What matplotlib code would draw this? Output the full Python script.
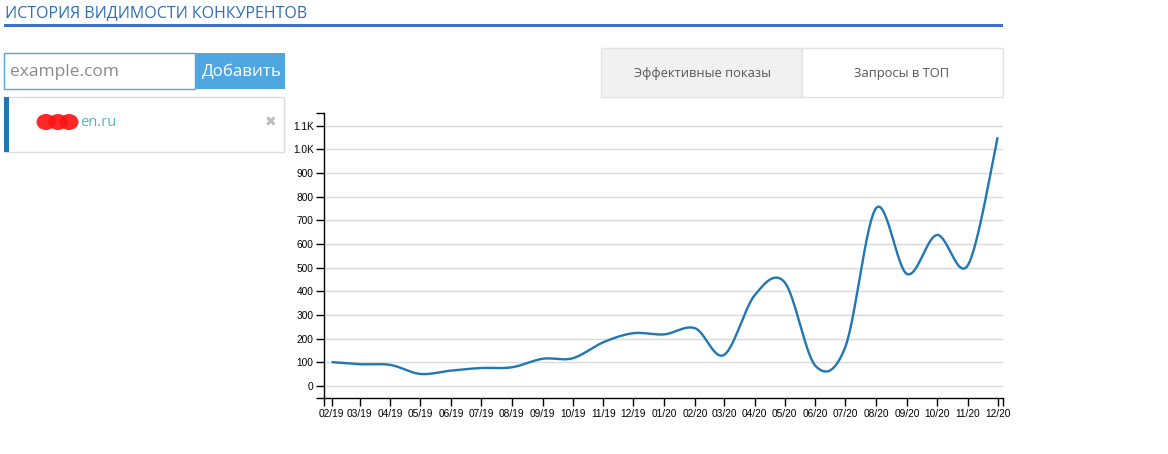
import numpy as np
import matplotlib
matplotlib.use("Agg")
import matplotlib.pyplot as plt
import matplotlib.dates as mdates
from matplotlib.patches import Rectangle, Ellipse
from matplotlib.ticker import FixedLocator, FuncFormatter
import datetime as dt

# monthly visibility values
months = ["2019-02", "2019-03", "2019-04", "2019-05", "2019-06", "2019-07",
          "2019-08", "2019-09", "2019-10", "2019-11", "2019-12", "2020-01",
          "2020-02", "2020-03", "2020-04", "2020-05", "2020-06", "2020-07",
          "2020-08", "2020-09", "2020-10", "2020-11", "2020-12"]
values = [101, 92, 89, 51, 65, 76, 79, 115, 117, 185, 223, 218,
          244, 131, 384, 438, 85, 166, 752, 473, 638, 510, 1051]
y_ticks = [0, 100, 200, 300, 400, 500, 600, 700, 800, 900, 1000, 1100]

W, H = 1168, 454


def px(x, y):
    # page pixel -> figure fraction
    return x / W, 1 - y / H


def box(fig, x0, y0, x1, y1, **kw):
    fx, fy = px(x0, y1)
    r = Rectangle((fx, fy), (x1 - x0) / W, (y1 - y0) / H,
                  transform=fig.transFigure, zorder=1, **kw)
    fig.add_artist(r)


def cardinal(xs, ys, n=30):
    # same smoothing as d3.curveCardinal (tension 0)
    xs = np.asarray(xs, float)
    ys = np.asarray(ys, float)
    px_ = np.concatenate([[xs[0]], xs, [xs[-1]]])
    py_ = np.concatenate([[ys[0]], ys, [ys[-1]]])
    outx, outy = [], []
    t = np.linspace(0, 1, n)
    for i in range(1, len(px_) - 2):
        x0, x1, x2, x3 = px_[i - 1], px_[i], px_[i + 1], px_[i + 2]
        y0, y1, y2, y3 = py_[i - 1], py_[i], py_[i + 1], py_[i + 2]
        cx1, cy1 = x1 + (x2 - x0) / 6, y1 + (y2 - y0) / 6
        cx2, cy2 = x2 - (x3 - x1) / 6, y2 - (y3 - y1) / 6
        b = [(1 - t) ** 3, 3 * (1 - t) ** 2 * t, 3 * (1 - t) * t ** 2, t ** 3]
        outx.extend(b[0] * x1 + b[1] * cx1 + b[2] * cx2 + b[3] * x2)
        outy.extend(b[0] * y1 + b[1] * cy1 + b[2] * cy2 + b[3] * y2)
    return np.array(outx), np.array(outy)


plt.rcParams['font.family'] = ['Open Sans', 'DejaVu Sans']

fig = plt.figure(figsize=(W / 100, H / 100), dpi=100)

# page header
fig.text(*px(5, 13), "ИСТОРИЯ ВИДИМОСТИ КОНКУРЕНТОВ", fontsize=11.5,
         color="#2f6fb8", va="center", ha="left")
box(fig, 4, 24, 1003, 27, facecolor="#3c6fce", edgecolor="none")

# input + button
box(fig, 4, 53, 195, 89, facecolor="white", edgecolor="#55a7e0", linewidth=1)
fig.text(*px(10, 72), "example.com", fontsize=12.5, color="#8a8a8a",
         va="center", ha="left")
box(fig, 195, 53, 285, 89, facecolor="#4fa7e2", edgecolor="none")
fig.text(*px(242, 72), "Добавить", fontsize=12.2, color="white",
         va="center", ha="center")

# tabs
box(fig, 601, 48, 802, 97, facecolor="#f1f1f1", edgecolor="#e3e3e3", linewidth=1)
box(fig, 802, 48, 1003, 97, facecolor="white", edgecolor="#e3e3e3", linewidth=1)
fig.text(*px(702, 73), "Эффективные показы", fontsize=9.3, color="#555555",
         va="center", ha="center")
fig.text(*px(902, 73), "Запросы в ТОП", fontsize=9.3, color="#555555",
         va="center", ha="center")

# competitor list item
box(fig, 4, 97, 284, 152, facecolor="white", edgecolor="#dedede", linewidth=1)
box(fig, 4, 97, 9, 152, facecolor="#1f77b4", edgecolor="none")
fig.text(*px(80, 122), "en.ru", fontsize=10.5, color="#5ab0c6",
         va="center", ha="left", zorder=2)
for cx in [46, 58, 69]:
    ex, ey = px(cx, 122)
    fig.add_artist(Ellipse((ex, ey), 19 / W, 16 / H, transform=fig.transFigure,
                           facecolor="#ff1414", edgecolor="none", alpha=0.92,
                           zorder=3))
fig.text(*px(271, 122), "✖", fontsize=10, color="#bdbdbd", va="center",
         ha="center", family=['DejaVu Sans'])

# chart
ax = fig.add_axes([324 / W, 1 - 398.3 / H, (1003 - 324) / W, (398.3 - 113.3) / H])

dates = [dt.datetime.strptime(m + "-01", "%Y-%m-%d") for m in months]
xnum = mdates.date2num(dates)
sx, sy = cardinal(xnum, values)
ax.plot(sx, sy, color="#1f77b4", linewidth=1.7, solid_capstyle="butt")

x_lo = mdates.date2num(dt.datetime(2019, 1, 24, 8))
x_hi = mdates.date2num(dt.datetime(2020, 12, 6, 8))
ax.set_xlim(x_lo, x_hi)
ax.set_ylim(-52, 1152)

ax.xaxis.set_major_locator(FixedLocator(xnum))
ax.xaxis.set_major_formatter(mdates.DateFormatter("%m/%y"))
ax.xaxis.set_minor_locator(FixedLocator([x_lo, x_hi]))
ax.yaxis.set_major_locator(FixedLocator(y_ticks))
ax.yaxis.set_major_formatter(FuncFormatter(
    lambda v, p: "%.1fK" % (v / 1000) if v >= 1000 else "%d" % v))
ax.yaxis.set_minor_locator(FixedLocator([-52, 1152]))

for v in y_ticks:
    ax.axhline(v, color="#d9d9d9", linewidth=1, zorder=0)

for s in ["top", "right"]:
    ax.spines[s].set_visible(False)
for s in ["left", "bottom"]:
    ax.spines[s].set_color("black")
    ax.spines[s].set_linewidth(1)

ax.tick_params(which="both", length=6, width=1, color="black")
ax.tick_params(axis="both", which="major", labelsize=7.3, pad=1.5,
               labelcolor="black")
for lab in ax.get_xticklabels() + ax.get_yticklabels():
    lab.set_family(['Liberation Sans', 'DejaVu Sans'])

fig.savefig("out.png", dpi=100, facecolor="white")
